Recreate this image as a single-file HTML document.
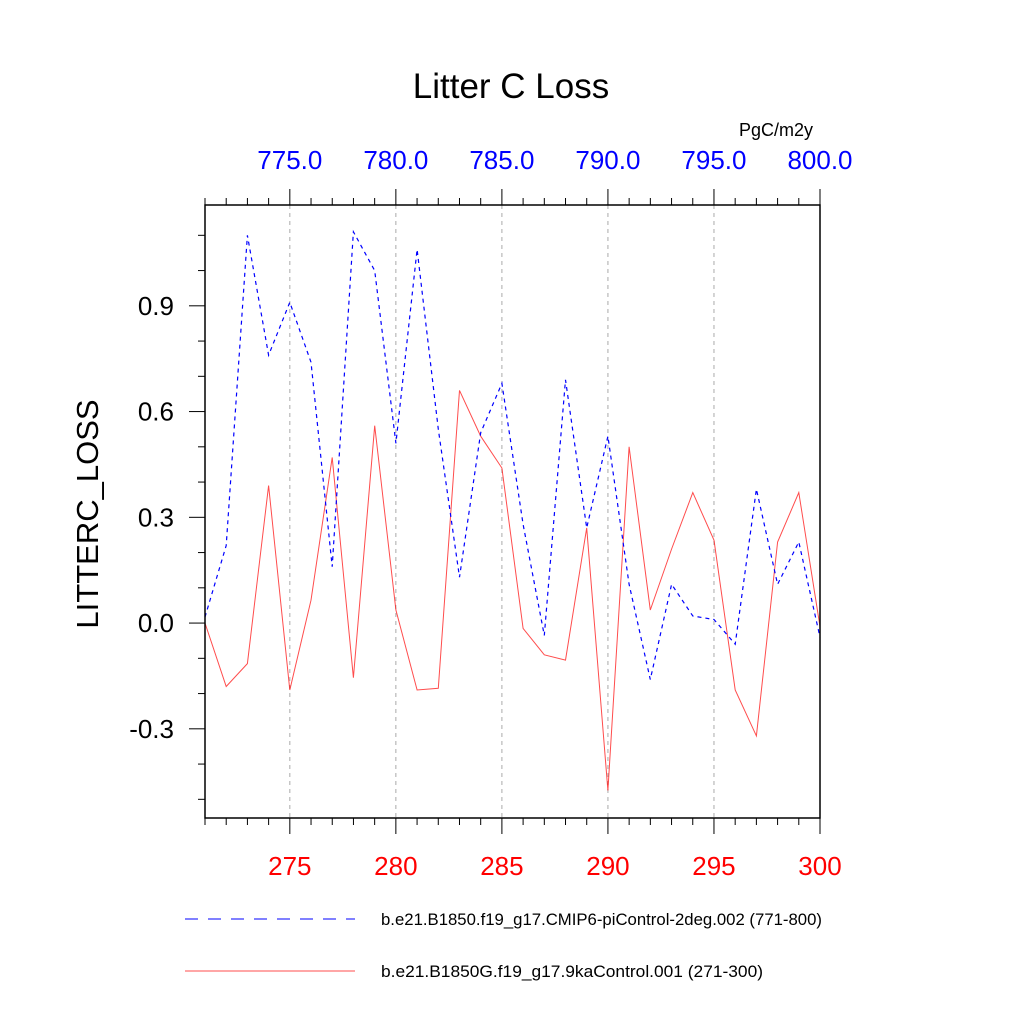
<!DOCTYPE html>
<html><head><meta charset="utf-8"><style>
body{margin:0;background:#fff}
svg text{font-family:"Liberation Sans",sans-serif}
</style></head><body>
<svg id="chart" width="1024" height="1024" xmlns="http://www.w3.org/2000/svg">
<rect width="1024" height="1024" fill="#fff"/>
<text x="511" y="98" font-size="35" text-anchor="middle">Litter C Loss</text>
<text x="776" y="136" font-size="18" text-anchor="middle">PgC/m2y</text>
<text transform="translate(98,514) rotate(-90)" font-size="31" text-anchor="middle">LITTERC_LOSS</text>
<g id="grid"></g>
<g id="axes"></g>
<g id="series"></g>
<rect x="205" y="205" width="615" height="613" fill="none" stroke="#000" stroke-width="1.5"/>
<line x1="185" y1="919" x2="355" y2="919" stroke="#00f" stroke-width="1" stroke-dasharray="13,10"/>
<text x="381" y="925" font-size="17" textLength="441" lengthAdjust="spacingAndGlyphs">b.e21.B1850.f19_g17.CMIP6-piControl-2deg.002 (771-800)</text>
<line x1="185" y1="971" x2="355" y2="971" stroke="#f00" stroke-width="1" stroke-opacity="0.7"/>
<text x="381" y="977" font-size="17" textLength="382" lengthAdjust="spacingAndGlyphs">b.e21.B1850G.f19_g17.9kaControl.001 (271-300)</text>
</svg>
<script>
const years = [271,272,273,274,275,276,277,278,279,280,281,282,283,284,285,286,287,288,289,290,291,292,293,294,295,296,297,298,299,300];
const blueValues = [0.017,0.22,1.10,0.76,0.91,0.74,0.16,1.11,1.00,0.51,1.06,0.55,0.13,0.54,0.68,0.28,-0.035,0.69,0.27,0.53,0.11,-0.16,0.11,0.02,0.01,-0.06,0.38,0.11,0.23,-0.04];
const redValues = [0.0,-0.18,-0.115,0.39,-0.19,0.065,0.47,-0.155,0.56,0.037,-0.19,-0.185,0.66,0.53,0.44,-0.015,-0.09,-0.105,0.27,-0.475,0.50,0.037,0.21,0.37,0.235,-0.19,-0.32,0.23,0.37,-0.01];
const bottomTicks = [275,280,285,290,295,300];
const topTickLabels = ["775.0","780.0","785.0","790.0","795.0","800.0"];
const yTicks = [-0.3,0.0,0.3,0.6,0.9];
const yTickLabels = ["-0.3","0.0","0.3","0.6","0.9"];
const NS="http://www.w3.org/2000/svg";
const x0=205,x1=820,y0=818,y1=205,xmin=271,xmax=300,ymin=-0.553,ymax=1.186;
const sx=v=>x0+(v-xmin)/(xmax-xmin)*(x1-x0);
const sy=v=>y0-(v-ymin)/(ymax-ymin)*(y0-y1);
function mk(tag,attrs,parent,txt){const e=document.createElementNS(NS,tag);for(const k in attrs)e.setAttribute(k,attrs[k]);if(txt!==undefined)e.textContent=txt;parent.appendChild(e);return e;}
const grid=document.getElementById('grid'),axes=document.getElementById('axes'),series=document.getElementById('series');
bottomTicks.forEach((t,i)=>{
  const X=sx(t);
  if(t<xmax){const g=mk('line',{x1:X,y1:y1,x2:X,y2:y0,stroke:'#aaa','stroke-dasharray':'4,4','stroke-width':1},grid);
  
  }
  const l=mk('text',{x:X,y:875,'font-size':26,fill:'#f00','text-anchor':'middle'},axes,String(t));
  
  
  const l2=mk('text',{x:X,y:169,'font-size':26,fill:'#00f','text-anchor':'middle'},axes,topTickLabels[i]);
  
  
});
for(let yr=xmin;yr<=xmax;yr++){
  const X=sx(yr),major=(yr%5===0);
  mk('line',{x1:X,y1:y0,x2:X,y2:y0+(major?16:7),stroke:'#000','stroke-width':1},axes);
  mk('line',{x1:X,y1:y1,x2:X,y2:y1-(major?16:7),stroke:'#000','stroke-width':1},axes);
}
for(let k=-5;k<=11;k++){
  const v=k/10,Y=sy(v),major=(k%3===0);
  mk('line',{x1:x0,y1:Y,x2:x0-(major?16:7),y2:Y,stroke:'#000','stroke-width':1},axes);
}
yTicks.forEach((t,i)=>{
  const l=mk('text',{x:174,y:sy(t)+9,'font-size':26,'text-anchor':'end'},axes,yTickLabels[i]);
  
  
});
function pts(vals){return vals.map((v,i)=>sx(years[i]).toFixed(1)+','+sy(v).toFixed(1)).join(' ');}
const red=mk('polyline',{points:pts(redValues),fill:'none',stroke:'#f00','stroke-opacity':0.7,'stroke-width':1},series);


const blue=mk('polyline',{points:pts(blueValues),fill:'none',stroke:'#00f','stroke-width':1.2,'stroke-dasharray':'4,4'},series);


</script>
</body></html>
